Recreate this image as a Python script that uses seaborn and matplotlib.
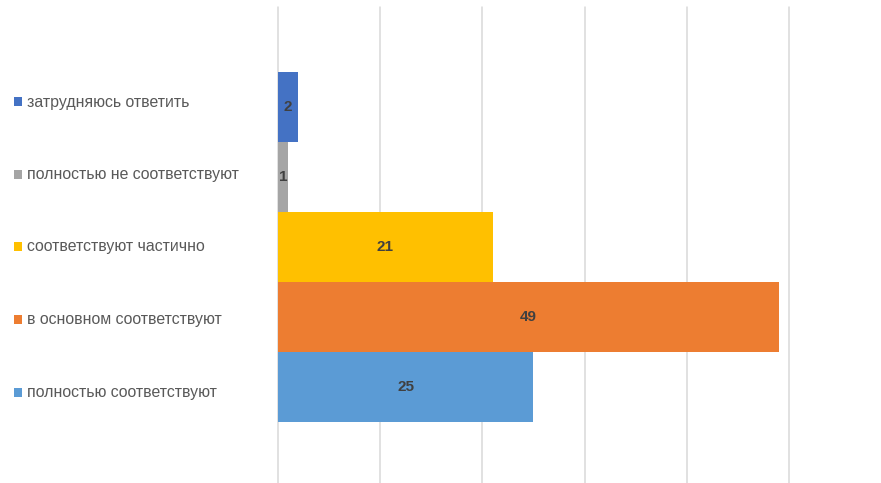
import matplotlib
matplotlib.use("Agg")
import matplotlib.pyplot as plt
import seaborn as sns
import pandas as pd

# data, top to bottom as in the chart
categories = ["затрудняюсь ответить", "полностью не соответствуют",
              "соответствуют частично", "в основном соответствуют",
              "полностью соответствуют"]
values = [2, 1, 21, 49, 25]
colors = ["#4472C4", "#A5A5A5", "#FFC000", "#ED7D31", "#5B9BD5"]
x_ticks = [0, 10, 20, 30, 40, 50]

sns.set_style("white")
plt.rcParams['font.family'] = ['Liberation Sans', 'DejaVu Sans']

W, H = 881, 483
fig = plt.figure(figsize=(W / 100, H / 100), dpi=100)
ax = fig.add_axes([278 / W, 0, (789 - 278) / W, (483 - 7) / H])

df = pd.DataFrame({"cat": categories, "val": values})
sns.barplot(data=df, y="cat", x="val", hue="cat", palette=colors,
            order=categories, width=1.0, legend=False, ax=ax,
            saturation=1, edgecolor="none")

ax.set_xlim(0, 50)
ax.set_ylim(5.37, -1.43)
ax.set_xticks(x_ticks)
ax.set_yticks([])
ax.set_xticklabels([])
ax.set_xlabel("")
ax.set_ylabel("")
for s in ax.spines.values():
    s.set_visible(False)
ax.grid(False)
for xv in x_ticks:
    ax.axvline(xv, color="#D9D9D9", lw=1.1, zorder=0, clip_on=False)

# value labels in bar centres
for i, v in enumerate(values):
    ax.text(v / 2, i, str(v), ha="center", va="center", fontsize=11,
            fontweight="bold", color="#404040")

# legend on the left, one entry per row
leg_top = 1 - 102 / H
leg_step = 72.5 / H
for i, (c, col) in enumerate(zip(categories, colors)):
    y = leg_top - i * leg_step
    fig.patches.append(plt.Rectangle((14 / W, y - 4.5 / H), 8 / W, 9 / H,
                                     transform=fig.transFigure,
                                     facecolor=col, edgecolor="none"))
    fig.text(27 / W, y, c, ha="left", va="center", fontsize=11.4,
             color="#595959")

fig.savefig("out.png", dpi=100)
